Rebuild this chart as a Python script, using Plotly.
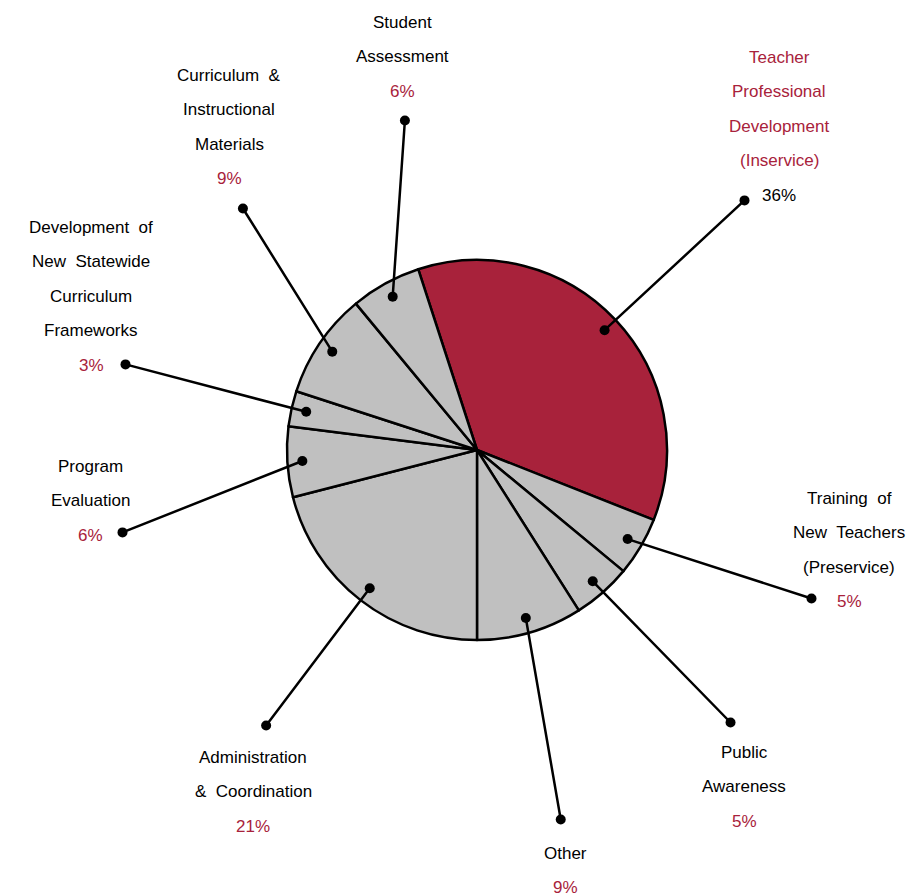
import math
import plotly.graph_objects as go

# fatias no sentido horario, comecando pela maior
categorias = ['Teacher Professional Development (Inservice)',
              'Training of New Teachers (Preservice)',
              'Public Awareness',
              'Other',
              'Administration & Coordination',
              'Program Evaluation',
              'Development of New Statewide Curriculum Frameworks',
              'Curriculum & Instructional Materials',
              'Student Assessment']
percentuais = [36, 5, 5, 9, 21, 6, 3, 9, 6]
linhas_rotulo = [['Teacher', 'Professional', 'Development', '(Inservice)'],
                 ['Training  of', 'New  Teachers', '(Preservice)'],
                 ['Public', 'Awareness'],
                 ['Other'],
                 ['Administration', '&  Coordination'],
                 ['Program', 'Evaluation'],
                 ['Development  of', 'New  Statewide', 'Curriculum', 'Frameworks'],
                 ['Curriculum  &', 'Instructional', 'Materials'],
                 ['Student', 'Assessment']]
destaque = [True, False, False, False, False, False, False, False, False]

# layout (pixels)
W, H = 908, 896
CX, CY, R = 477, 450, 190
R_PONTO = 175
ROTACAO = -18
ESPACO = 34.5
texto_xy = [(779, 57), (849, 498), (744, 752), (565, 853), (253, 757),
            (90, 466), (91, 227), (229, 75), (402, 22)]
ponto_ext = [(746, 199), (813, 599), (732, 724), (561, 821), (265, 727),
             (121, 533), (124, 364), (242, 207), (405, 119)]

VERMELHO = '#a8223b'
CINZA = '#c0c0c0'
FONTE = 'Liberation Sans, Arial, sans-serif'

fig = go.Figure()
fig.add_trace(go.Pie(
    labels=categorias,
    values=percentuais,
    sort=False,
    direction='clockwise',
    rotation=ROTACAO,
    textinfo='none',
    hoverinfo='label+percent',
    showlegend=False,
    marker=dict(colors=[VERMELHO if d else CINZA for d in destaque],
                line=dict(color='black', width=2.5)),
    domain=dict(x=[(CX - R) / W, (CX + R) / W],
                y=[1 - (CY + R) / H, 1 - (CY - R) / H])
))

anot = []
total = sum(percentuais)
acum = 0
for i, v in enumerate(percentuais):
    meio = ROTACAO + (acum + v / 2) / total * 360
    acum += v
    a = math.radians(meio)
    xi = CX + R_PONTO * math.sin(a)
    yi = CY - R_PONTO * math.cos(a)
    xo, yo = ponto_ext[i]
    anot.append(dict(x=xi, y=yi, ax=xo, ay=yo, xref='x', yref='y',
                     axref='x', ayref='y', text='', showarrow=True,
                     arrowhead=6, startarrowhead=6, arrowside='end+start',
                     arrowsize=1.0, startarrowsize=1.0, arrowwidth=2.5,
                     arrowcolor='black'))
    tx, ty = texto_xy[i]
    cor_nome = VERMELHO if destaque[i] else 'black'
    cor_pct = 'black' if destaque[i] else VERMELHO
    linhas = linhas_rotulo[i] + ['%d%%' % v]
    for k, t in enumerate(linhas):
        cor = cor_pct if k == len(linhas) - 1 else cor_nome
        anot.append(dict(x=tx, y=ty + k * ESPACO, xref='x', yref='y',
                         text=t, showarrow=False, xanchor='center',
                         yanchor='middle',
                         font=dict(size=17, family=FONTE, color=cor)))

fig.update_layout(
    width=W, height=H,
    margin=dict(l=0, r=0, t=0, b=0),
    paper_bgcolor='white',
    plot_bgcolor='white',
    xaxis=dict(range=[0, W], visible=False, domain=[0, 1], fixedrange=True),
    yaxis=dict(range=[H, 0], visible=False, domain=[0, 1], fixedrange=True),
    annotations=anot,
    showlegend=False
)

# tira a margem padrao do body para o grafico ocupar a janela toda
fig.write_html('out.html', config={'displayModeBar': False},
               post_script="document.body.style.margin='0';")
